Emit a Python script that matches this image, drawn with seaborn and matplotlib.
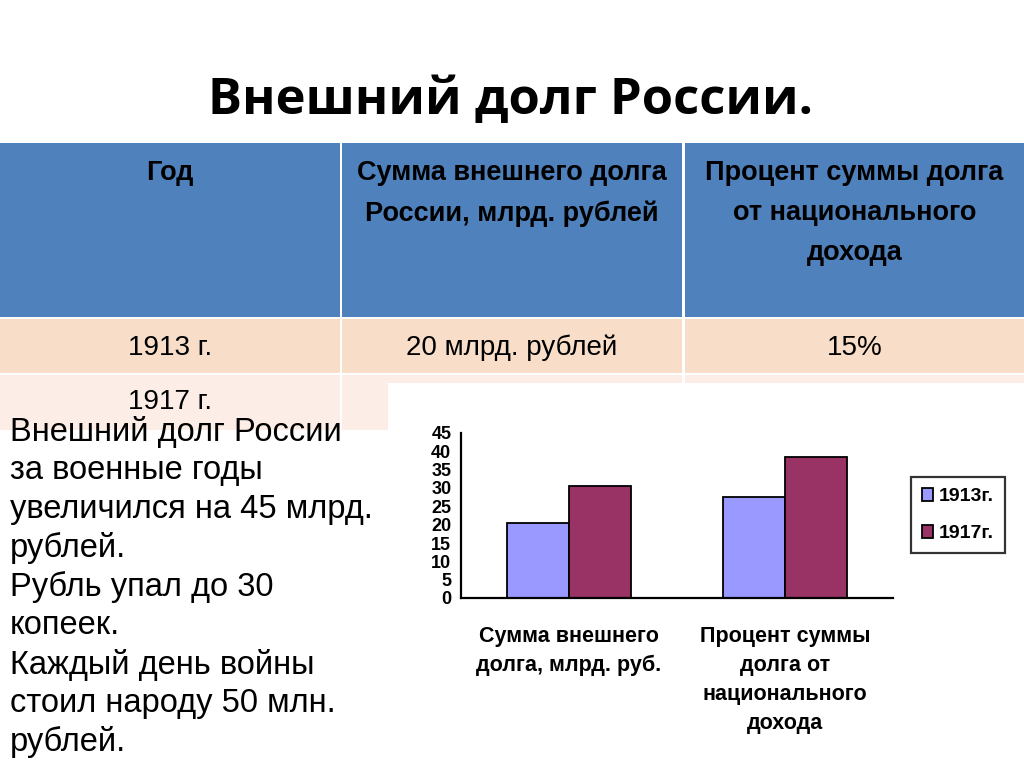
import matplotlib as mpl
mpl.use('Agg')
import matplotlib.pyplot as plt
from matplotlib.patches import Rectangle
import pandas as pd
import seaborn as sns

# chart data
categories = ['Сумма внешнего\nдолга, млрд. руб.', 'Процент суммы\nдолга от\nнационального\nдохода']
years = ['1913г.', '1917г.']
values_1913 = [20.5, 27.5]
values_1917 = [30.5, 38.5]
yticks = [0, 5, 10, 15, 20, 25, 30, 35, 40, 45]

# table texts
table_header = ['Год', 'Сумма внешнего долга\nРоссии, млрд. рублей', 'Процент суммы долга\nот национального\nдохода']
table_row1 = ['1913 г.', '20 млрд. рублей', '15%']
table_row2 = ['1917 г.']

side_text = ['Внешний долг России', 'за военные годы', 'увеличился на 45 млрд.',
             'рублей.', 'Рубль упал до 30', 'копеек.', 'Каждый день войны',
             'стоил народу 50 млн.', 'рублей.']

W, H = 1024, 767

def fx(x):
    return x / W

def fy(y):
    return 1 - y / H

sns.set_theme(style='white')
plt.rcParams['font.family'] = ['Liberation Sans', 'DejaVu Sans']
plt.rcParams['text.color'] = 'black'

fig = plt.figure(figsize=(10.24, 7.67), dpi=100)
fig.patch.set_facecolor('white')

def box(x0, y0, x1, y1, color, z=0):
    fig.add_artist(Rectangle((fx(x0), fy(y1)), fx(x1) - fx(x0), fy(y0) - fy(y1),
                             transform=fig.transFigure, facecolor=color,
                             edgecolor='none', zorder=z))

# title
fig.text(fx(511), fy(101), 'Внешний долг России.', ha='center', va='center',
         fontsize=36.5, fontweight='bold', family=['Open Sans', 'DejaVu Sans'])

# table
cols = [(0, 340), (342, 682), (685, 1024)]
for x0, x1 in cols:
    box(x0, 143, x1, 317, '#4F81BD')
    box(x0, 319, x1, 373, '#F8DDC9')
    box(x0, 375, x1, 430, '#FCEEE6')
for (x0, x1), txt in zip(cols, table_header):
    fig.text(fx((x0 + x1) / 2), fy(160), txt, ha='center', va='top', fontsize=19.5,
             fontweight='bold', linespacing=1.7)
for (x0, x1), txt in zip(cols, table_row1):
    fig.text(fx((x0 + x1) / 2), fy(348), txt, ha='center', va='center', fontsize=20)
for (x0, x1), txt in zip(cols, table_row2):
    fig.text(fx((x0 + x1) / 2), fy(402), txt, ha='center', va='center', fontsize=20)

# white chart area
box(388, 383, 1024, 767, 'white', z=1)

# side text
for i, line in enumerate(side_text):
    fig.text(fx(10), fy(432 + i * 38.8), line, ha='left', va='center', fontsize=23.5, zorder=3)

# bar chart
df = pd.DataFrame({
    'category': categories * 2,
    'year': [years[0]] * 2 + [years[1]] * 2,
    'value': values_1913 + values_1917,
})
ax = fig.add_axes([fx(461), fy(598), fx(893) - fx(461), fy(433) - fy(598)])
ax.set_zorder(2)
sns.barplot(data=df, x='category', y='value', hue='year', ax=ax,
            palette={years[0]: '#9999FF', years[1]: '#993366'},
            edgecolor='black', linewidth=1.3, width=0.57, saturation=1)
ax.set_xlim(-0.5, 1.5)
ax.set_ylim(0, 45)
ax.set_yticks(yticks)
ax.set_xlabel('')
ax.set_ylabel('')
ax.set_facecolor('white')
for s in ['top', 'right']:
    ax.spines[s].set_visible(False)
for s in ['left', 'bottom']:
    ax.spines[s].set_color('black')
    ax.spines[s].set_linewidth(1.6)
ax.tick_params(axis='y', direction='out', length=5, width=1.3, color='black',
               labelsize=13, pad=2)
ax.tick_params(axis='x', which='major', length=0, pad=20, labelsize=15.5)
ax.set_xticks([-0.5, 0.5, 1.5], minor=True)
ax.tick_params(axis='x', which='minor', direction='out', length=5, width=1.3, color='black')
for lab in ax.get_yticklabels() + ax.get_xticklabels():
    lab.set_fontweight('bold')
    lab.set_color('black')
for lab in ax.get_xticklabels():
    lab.set_va('top')
    lab.set_linespacing(1.5)

h, l = ax.get_legend_handles_labels()
leg = ax.legend(h, l, loc='center', bbox_to_anchor=(fx(958), fy(515)),
                bbox_transform=fig.transFigure, frameon=True, fancybox=False,
                edgecolor='black', handlelength=0.6, handleheight=0.7,
                handletextpad=0.3, labelspacing=1.0, borderpad=0.55,
                borderaxespad=0, prop={'weight': 'bold', 'size': 14})
leg.get_frame().set_linewidth(1.6)

plt.savefig('out.png', dpi=100)
